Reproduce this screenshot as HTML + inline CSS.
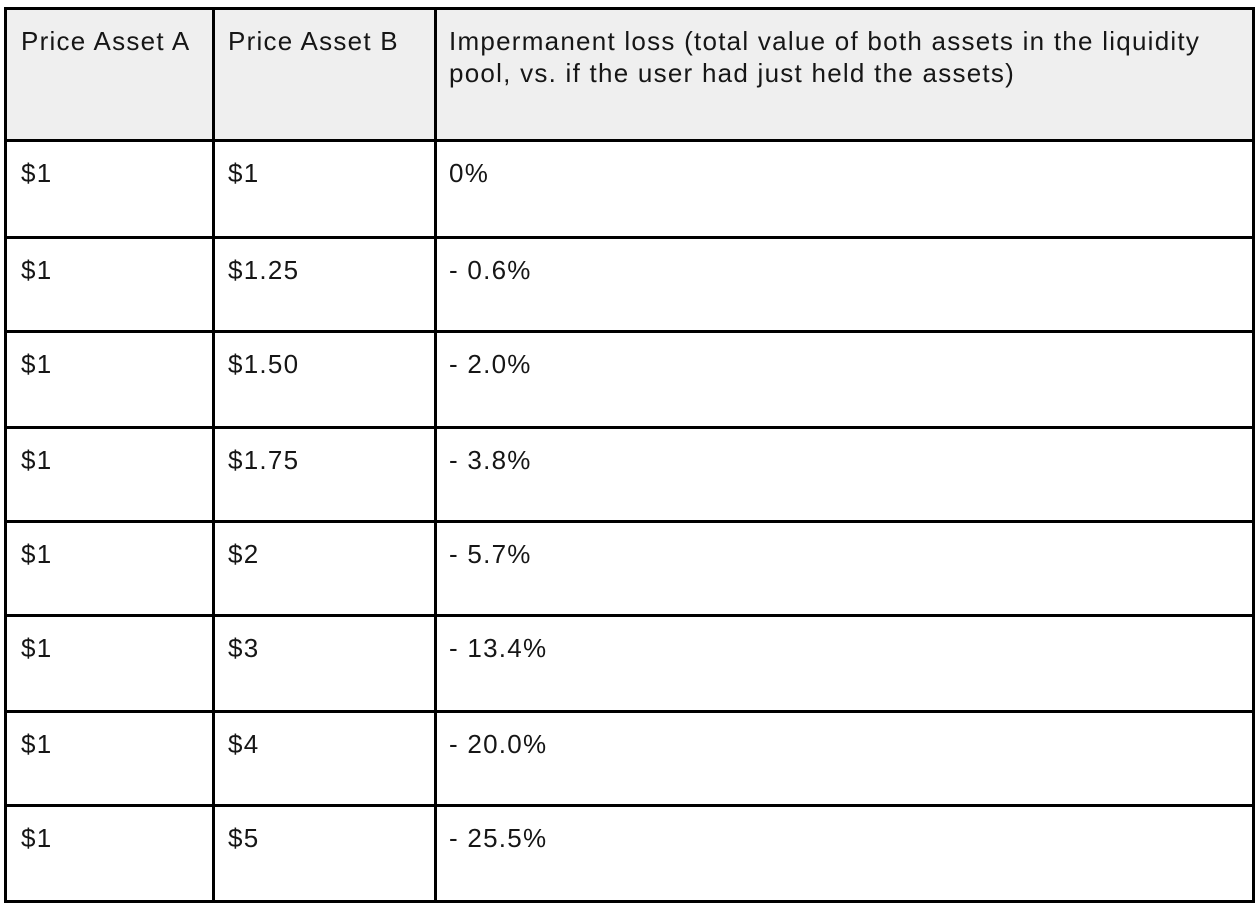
<!DOCTYPE html>
<html><head><meta charset="utf-8">
<style>
body{margin:0;width:1258px;height:906px;background:#fff;position:relative;overflow:hidden;font-family:"Liberation Sans",sans-serif;color:#161616}
.l{position:absolute;background:#000}
.t{position:absolute;font-size:26px;line-height:32px;letter-spacing:1.25px;white-space:nowrap}
</style></head><body>
<div style="position:absolute;left:5px;top:8px;width:1248px;height:132px;background:#efefef"></div>
<div id="tbl"></div>
<script>
const colB = ["$1","$1.25","$1.50","$1.75","$2","$3","$4","$5"];
const colA = ["$1","$1","$1","$1","$1","$1","$1","$1"];
const loss = ["0%","- 0.6%","- 2.0%","- 3.8%","- 5.7%","- 13.4%","- 20.0%","- 25.5%"];
const rowLines=[8,140,237,331,427,521,615,711,805,901];
const colLines=[4,212,434,1252];
const root=document.body;
rowLines.forEach((y,i)=>{const d=document.createElement('div');d.className='l';


d.style.cssText=`left:4px;top:${y-1}px;width:1251px;height:3px`;root.appendChild(d);});
colLines.forEach(x=>{const d=document.createElement('div');d.className='l';


d.style.cssText=`left:${x}px;top:7px;width:3px;height:896px`;root.appendChild(d);});
function txt(x,y,s,name){const d=document.createElement('div');d.className='t';


d.style.left=x+'px';d.style.top=y+'px';d.innerHTML=s;root.appendChild(d);}
txt(21,25,'Price Asset A','header-price-asset-a');
txt(228,25,'Price Asset B','header-price-asset-b');
txt(449,25,'Impermanent loss (total value of both assets in the liquidity<br>pool, vs. if the user had just held the assets)','header-impermanent-loss');
for(let i=0;i<colB.length;i++){const y=rowLines[i+1]+17;
txt(21,y,colA[i],'price-a-cell');
txt(228,y,colB[i],'price-b-cell');
txt(449,y,loss[i],'loss-cell');}
</script>
</body></html>
